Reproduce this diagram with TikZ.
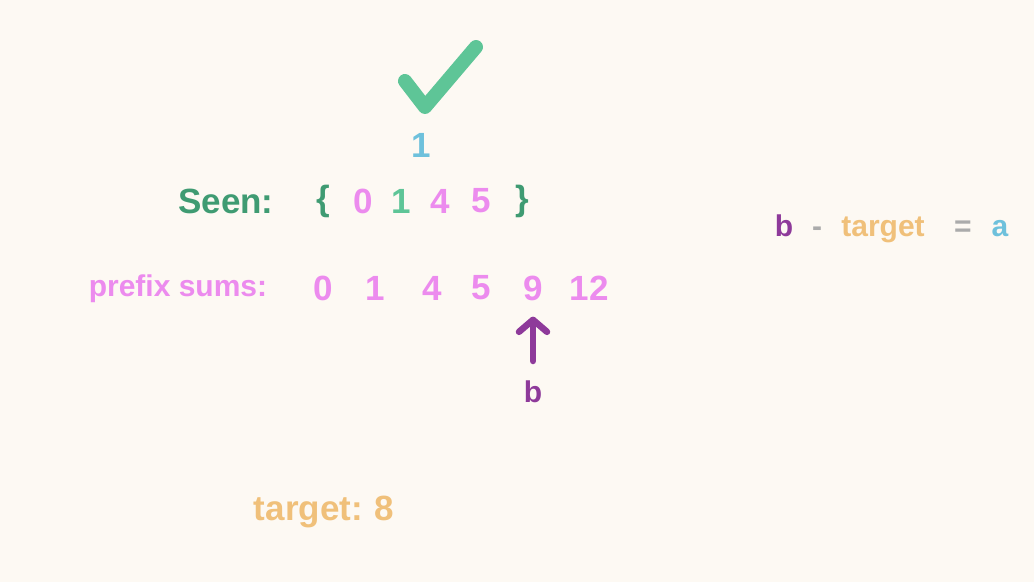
\documentclass[tikz,border=0pt]{standalone}
\usepackage{fontspec}
\setmainfont{Liberation Sans}
\usetikzlibrary{arrows.meta}
\definecolor{paper}{HTML}{FDF9F3}
\definecolor{tick}{HTML}{5EC597}
\definecolor{seengreen}{HTML}{3F9B72}
\definecolor{pink}{HTML}{EC8BEE}
\definecolor{skyblue}{HTML}{6EC1DC}
\definecolor{plum}{HTML}{8E3A9A}
\definecolor{sand}{HTML}{F0C07A}
\definecolor{ash}{HTML}{ABABAB}

\begin{document}
\begin{tikzpicture}[x=1pt, y=-1pt,
    txt/.style={inner sep=0pt, font=\bfseries\fontsize{35}{35}\selectfont},
    small/.style={inner sep=0pt, font=\bfseries\fontsize{30}{30}\selectfont},
    arrowb/.style={draw=plum, line width=6.5pt, line cap=round,
        -{Straight Barb[length=12pt, width=28pt, line width=6.5pt, round]}}]
\fill[paper] (0, 0) rectangle (1034, 582);
\useasboundingbox (0, 0) rectangle (1034, 582);

\draw[tick, line width=14pt, line cap=round, line join=round]
    (405, 81) -- (425, 107) -- (476, 47);
\node[txt, skyblue] (one) at (421, 145) {1};

\node[txt, seengreen] (seen) at (226, 201) {Seen:};
\node[txt, seengreen] (lb) at (323, 201) {\{};
\node[txt, pink] (s0) at (363, 201) {0};
\node[txt, tick] (s1) at (401, 201) {1};
\node[txt, pink] (s4) at (440, 201) {4};
\node[txt, pink] (s5) at (481, 201) {5};
\node[txt, seengreen] (rb) at (522, 201) {\}};

\node[small, pink] (prefix) at (178, 289) {prefix sums:};
\node[txt, pink] (p0) at (323, 288) {0};
\node[txt, pink] (p1) at (375, 288) {1};
\node[txt, pink] (p4) at (432, 288) {4};
\node[txt, pink] (p5) at (481, 288) {5};
\node[txt, pink] (p9) at (533, 288) {9};
\node[txt, pink] (p12) at (589, 288) {12};

\node[small, plum] (b) at (533, 392) {b};
\draw[arrowb] (b) ++(0, -31) coordinate (bt) (bt) -- ([yshift=-16pt]p9.south);

\node[small, plum, anchor=base] (bb) at (784, 236) {b};
\node[small, ash, anchor=base] (minus) at (817, 236) {-};
\node[small, sand, anchor=base] (tg) at (883, 236) {target};
\node[small, ash, anchor=base] (eq) at (963, 236) {=};
\node[small, skyblue, anchor=base] (aa) at (1000, 236) {a};

\node[txt, sand] (target) at (324, 512) {target:\,\,8};
\end{tikzpicture}
\end{document}
